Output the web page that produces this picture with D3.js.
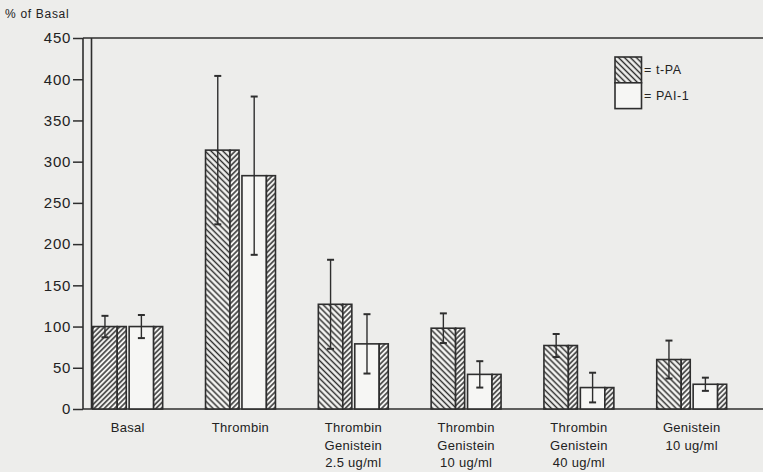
<!DOCTYPE html>
<html>
<head>
<meta charset="utf-8">
<script src="https://cdn.jsdelivr.net/npm/d3@7"></script>
<style>
  body { margin: 0; background: #ededeb; }
  svg { display: block; font-family: "Liberation Sans", Arial, sans-serif; }
</style>
</head>
<body>
<svg id="drawing_region"></svg>
<script>
// categories, one entry per group; each entry holds its label lines
const categories = ["Basal", "Thrombin", "Thrombin Genistein 2.5", "Thrombin Genistein 10", "Thrombin Genistein 40", "Genistein 10"];
const labelLines = [
  ["Basal"],
  ["Thrombin"],
  ["Thrombin", "Genistein", "2.5 ug/ml"],
  ["Thrombin", "Genistein", "10 ug/ml"],
  ["Thrombin", "Genistein", "40 ug/ml"],
  ["Genistein", "10 ug/ml"]
];
const series = ["t-PA", "PAI-1"];
const tpaValues = [100, 314, 127, 98, 77, 60];
const tpaErrors = [13, 90, 54, 18, 14, 23];
const paiValues = [100, 283, 79, 42, 26, 30];
const paiErrors = [14, 96, 36, 16, 18, 8];
const yTicks = [0, 50, 100, 150, 200, 250, 300, 350, 400, 450];

const config = {
  width: 763,
  height: 472,
  axisX: 83,
  innerAxisX: 91.5,
  top: 38,
  bottom: 409
};

const ink = "#2e2e2e";

const svg = d3.select("#drawing_region")
    .attr("width", config.width)
    .attr("height", config.height);

svg.append("rect")
    .attr("width", config.width)
    .attr("height", config.height)
    .attr("fill", "#ededeb");

// hatch patterns
const defs = svg.append("defs");
function hatch(id, angle, gap) {
  const p = defs.append("pattern")
      .attr("id", id)
      .attr("patternUnits", "userSpaceOnUse")
      .attr("width", gap)
      .attr("height", gap)
      .attr("patternTransform", `rotate(${angle})`);
  p.append("rect").attr("width", gap).attr("height", gap).attr("fill", "#f3f3f1");
  p.append("line")
      .attr("x1", gap / 2).attr("x2", gap / 2)
      .attr("y1", 0).attr("y2", gap)
      .attr("stroke", ink).attr("stroke-width", 1.45);
}
hatch("back", -45, 4.2);   // "\\\\"
hatch("fwd", 45, 3.6);     // "////"

const y = d3.scaleLinear()
    .domain([0, 450])
    .range([config.bottom, config.top]);

const x = d3.scaleBand()
    .domain(categories)
    .range([71.3, 748.1])
    .paddingInner(0.38)
    .paddingOuter(0.19);

const xs = d3.scaleBand()
    .domain(series)
    .range([0, x.bandwidth()])
    .paddingInner(0.08);

const frontW = xs.bandwidth() * 0.73;

// axis frame
const yaxis = d3.axisLeft(y)
    .tickValues(yTicks)
    .tickSize(10)
    .tickPadding(2)
    .tickSizeOuter(0);

const yg = svg.append("g")
    .attr("transform", `translate(${config.axisX},0)`)
    .call(yaxis);
yg.select(".domain").remove();
yg.selectAll(".tick line").attr("stroke", ink).attr("stroke-width", 1.5);
yg.selectAll(".tick text")
    .attr("fill", "#222")
    .style("font-size", "15px")
    .style("letter-spacing", "0.7px");

svg.append("line")
    .attr("x1", config.axisX).attr("x2", config.axisX)
    .attr("y1", y(450)).attr("y2", y(0))
    .attr("stroke", ink).attr("stroke-width", 1.6);
svg.append("line")
    .attr("x1", config.innerAxisX).attr("x2", config.innerAxisX)
    .attr("y1", y(450)).attr("y2", y(0))
    .attr("stroke", ink).attr("stroke-width", 1.6);
svg.append("line")
    .attr("x1", config.axisX).attr("x2", config.width)
    .attr("y1", y(450)).attr("y2", y(450))
    .attr("stroke", ink).attr("stroke-width", 1.6);
svg.append("line")
    .attr("x1", config.axisX).attr("x2", config.width)
    .attr("y1", y(0)).attr("y2", y(0))
    .attr("stroke", ink).attr("stroke-width", 1.6);

svg.append("text")
    .attr("x", 5)
    .attr("y", 18)
    .attr("fill", "#222")
    .style("font-size", "12px")
    .style("letter-spacing", "0.7px")
    .text("% of Basal");

// bars
const rows = [];
categories.forEach((c, i) => {
  rows.push({cat: c, i: i, s: "t-PA", v: tpaValues[i], e: tpaErrors[i]});
  rows.push({cat: c, i: i, s: "PAI-1", v: paiValues[i], e: paiErrors[i]});
});

const bar = svg.append("g").selectAll("g")
    .data(rows)
    .join("g")
    .attr("transform", d => `translate(${x(d.cat) + xs(d.s)},0)`);

bar.append("rect")
    .attr("x", 0)
    .attr("y", d => y(d.v))
    .attr("width", frontW)
    .attr("height", d => y(0) - y(d.v))
    .attr("fill", d => d.s === "PAI-1" ? "#f6f6f4" : (d.i === 0 ? "url(#fwd)" : "url(#back)"))
    .attr("stroke", ink)
    .attr("stroke-width", 1.6);

bar.append("rect")
    .attr("x", frontW)
    .attr("y", d => y(d.v))
    .attr("width", xs.bandwidth() - frontW)
    .attr("height", d => y(0) - y(d.v))
    .attr("fill", "url(#fwd)")
    .attr("stroke", ink)
    .attr("stroke-width", 1.6);

// error bars
const cap = 3.5;
const err = bar.append("g")
    .attr("stroke", ink)
    .attr("stroke-width", 1.4);
err.append("line")
    .attr("x1", frontW / 2).attr("x2", frontW / 2)
    .attr("y1", d => y(d.v + d.e)).attr("y2", d => y(d.v - d.e));
err.append("line")
    .attr("x1", frontW / 2 - cap).attr("x2", frontW / 2 + cap)
    .attr("y1", d => y(d.v + d.e)).attr("y2", d => y(d.v + d.e))
    .attr("stroke-width", 2);
err.append("line")
    .attr("x1", frontW / 2 - cap).attr("x2", frontW / 2 + cap)
    .attr("y1", d => y(d.v - d.e)).attr("y2", d => y(d.v - d.e))
    .attr("stroke-width", 2);

// category labels
const lab = svg.append("g").selectAll("text")
    .data(categories)
    .join("text")
    .attr("text-anchor", "middle")
    .attr("fill", "#222")
    .style("font-size", "13px")
    .style("letter-spacing", "0.3px");
lab.each(function(c, i) {
  d3.select(this).selectAll("tspan")
      .data(labelLines[i])
      .join("tspan")
      .attr("x", x(c) + x.bandwidth() / 2)
      .attr("y", (t, k) => 432 + k * 17.5)
      .text(t => t);
});

// legend
const legend = svg.append("g").attr("transform", "translate(615,57)");
const lg = legend.selectAll("g")
    .data(series)
    .join("g")
    .attr("transform", (d, i) => `translate(0,${i * 25.8})`);
lg.append("rect")
    .attr("width", 26.5)
    .attr("height", 25.8)
    .attr("fill", d => d === "t-PA" ? "url(#back)" : "#f6f6f4")
    .attr("stroke", ink)
    .attr("stroke-width", 1.6);
lg.append("text")
    .attr("x", 29)
    .attr("y", 13)
    .attr("dy", "0.35em")
    .attr("fill", "#222")
    .style("font-size", "12.5px")
    .style("letter-spacing", "0.6px")
    .text(d => "= " + d);
</script>
</body>
</html>
